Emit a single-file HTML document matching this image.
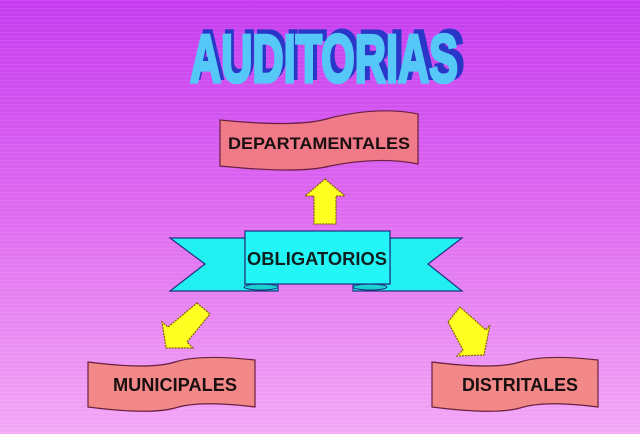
<!DOCTYPE html>
<html><head><meta charset="utf-8"><style>
html,body{margin:0;padding:0;width:640px;height:434px;overflow:hidden}
body{background:linear-gradient(#c53cf0 0%,#dd66f0 45%,#f3a8f6 100%)}
</style></head><body>
<svg width="640" height="434" viewBox="0 0 640 434" xmlns="http://www.w3.org/2000/svg" style="position:absolute;left:0;top:0">
<defs><pattern id="ln" width="4" height="4" patternUnits="userSpaceOnUse"><rect y="0" width="4" height="1" fill="#ffffff" opacity="0.08"/></pattern></defs>
<rect width="640" height="434" fill="url(#ln)"/>
<!-- title -->
<g transform="translate(0,82) scale(1,1.35)">
<text x="328" y="-3" text-anchor="middle" font-family="Liberation Sans, sans-serif" font-weight="bold" font-size="50" fill="#2a36c8" stroke="#2a36c8" stroke-width="3" textLength="272" lengthAdjust="spacingAndGlyphs">AUDITORIAS</text>
<text x="324" y="0" text-anchor="middle" font-family="Liberation Sans, sans-serif" font-weight="bold" font-size="50" fill="#55c8f8" stroke="#55c8f8" stroke-width="2.5" textLength="268" lengthAdjust="spacingAndGlyphs">AUDITORIAS</text>
</g>
<!-- departamentales -->
<path d="M220,120 Q300,128 330,118 Q380,106 418,114 L418,164 Q380,156 330,166 Q300,174 220,166 Z" fill="#f07a88" stroke="#6a2040" stroke-width="1.2"/>
<text x="319" y="149" text-anchor="middle" font-family="Liberation Sans, sans-serif" font-weight="bold" font-size="17" fill="#1a1010" textLength="182" lengthAdjust="spacingAndGlyphs">DEPARTAMENTALES</text>
<!-- up arrow -->
<path d="M325,179 L345,196 L336,196 L336,224 L314,224 L314,196 L305,196 Z" fill="#ffff22" stroke="#806000" stroke-width="1.2" stroke-dasharray="2,1"/>
<!-- banner -->
<path d="M245,238 L170,238 L205,264 L170,291 L278,291 L278,284 L245,284 Z" fill="#22f0f0" stroke="#203080" stroke-width="1.2"/>
<path d="M390,238 L462,238 L428,264 L462,291 L353,291 L353,284 L390,284 Z" fill="#22f0f0" stroke="#203080" stroke-width="1.2"/>
<ellipse cx="261" cy="287" rx="17" ry="3" fill="#1ad0d0" stroke="#203080"/>
<ellipse cx="370" cy="287" rx="17" ry="3" fill="#1ad0d0" stroke="#203080"/>
<rect x="245" y="231" width="145" height="53" fill="#22f6f6" stroke="#203080" stroke-width="1.2"/>
<text x="317" y="265" text-anchor="middle" font-family="Liberation Sans, sans-serif" font-weight="bold" font-size="18" fill="#102020" textLength="140" lengthAdjust="spacingAndGlyphs">OBLIGATORIOS</text>
<!-- left-down arrow -->
<path d="M197,303 L210,314 L187,342 L193,348 L166,348 L162,322 L168,327 Z" fill="#ffff22" stroke="#806000" stroke-width="1.2" stroke-dasharray="2,1"/>
<!-- right-down arrow -->
<path d="M448,322 L460,307 L486,330 L490,325 L484,355 L457,356 L463,350 Z" fill="#ffff22" stroke="#806000" stroke-width="1.2" stroke-dasharray="2,1"/>
<!-- municipales -->
<path d="M88,362 Q150,370 175,362 Q200,354 255,360 L255,407 Q200,400 175,408 Q150,415 88,407 Z" fill="#f28888" stroke="#6a2040" stroke-width="1.2"/>
<text x="175" y="391" text-anchor="middle" font-family="Liberation Sans, sans-serif" font-weight="bold" font-size="18" fill="#1a1010" textLength="124" lengthAdjust="spacingAndGlyphs">MUNICIPALES</text>
<!-- distritales -->
<path d="M432,362 Q495,370 520,362 Q545,354 598,360 L598,407 Q545,400 520,408 Q495,415 432,407 Z" fill="#f28888" stroke="#6a2040" stroke-width="1.2"/>
<text x="520" y="391" text-anchor="middle" font-family="Liberation Sans, sans-serif" font-weight="bold" font-size="18" fill="#1a1010" textLength="116" lengthAdjust="spacingAndGlyphs">DISTRITALES</text>
</svg>
</body></html>
